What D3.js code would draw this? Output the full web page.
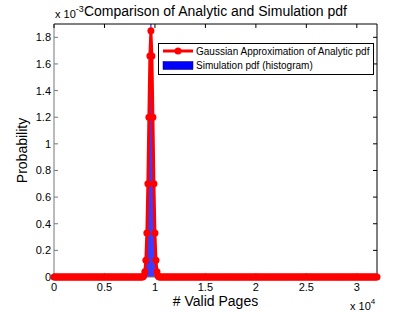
<!DOCTYPE html>
<html><head><meta charset="utf-8">
<script src="https://cdn.jsdelivr.net/npm/d3@7"></script>
<style>body{margin:0;background:#fff}svg{display:block}text{font-family:"Liberation Sans",Arial,sans-serif;fill:#000}</style>
</head><body><svg id="c" width="415" height="312"></svg>
<script>
// ---- data (y values in units of 1e-3) ----
const xTicks = [0, 5000, 10000, 15000, 20000, 25000, 30000];
const xTickLabels = ["0", "0.5", "1", "1.5", "2", "2.5", "3"];
const yTicks = [0, 0.2, 0.4, 0.6, 0.8, 1.0, 1.2, 1.4, 1.6, 1.8];
const yTickLabels = ["0", "0.2", "0.4", "0.6", "0.8", "1", "1.2", "1.4", "1.6", "1.8"];
// analytic pdf (Gaussian approx.), nonzero bins
const peakX = [8900, 9000, 9100, 9200, 9300, 9400, 9500, 9600, 9700, 9800, 9900, 10000, 10100, 10200, 10300];
const peakY = [0.01, 0.04, 0.125, 0.33, 0.70, 1.20, 1.66, 1.85, 1.66, 1.20, 0.70, 0.33, 0.125, 0.04, 0.01];
// all other bins of the analytic curve are 0, bins every 100 from 0 to 32000
const binStep = 100, xMax = 32000;
// simulation histogram
const histX = [9000, 9100, 9200, 9300, 9400, 9500, 9600, 9700, 9800, 9900, 10000, 10100, 10200];
const histY = [0.03, 0.12, 0.34, 0.72, 1.22, 1.64, 1.90, 1.68, 1.18, 0.68, 0.31, 0.11, 0.03];

const analytic = d3.range(0, xMax + 1, binStep).map(x => {
  const i = peakX.indexOf(x);
  return {x, y: i >= 0 ? peakY[i] : 0};
});

const svg = d3.select("#c");
const L = 54, R = 377, T = 24, B = 277;
const x = d3.scaleLinear().domain([0, xMax]).range([L, R]);
const y = d3.scaleLinear().domain([0, 1.9]).range([B, T]);

// histogram bars
svg.append("g").selectAll("rect").data(histX).join("rect")
  .attr("x", (d) => x(d - binStep / 2))
  .attr("width", (d) => x(d + binStep / 2) - x(d - binStep / 2))
  .attr("y", (d, i) => y(histY[i]))
  .attr("height", (d, i) => y(0) - y(histY[i]))
  .attr("fill", "#0000ff");

// axes box & ticks
const axG = svg.append("g").attr("font-size", 11);
axG.append("line").attr("x1", L).attr("x2", R).attr("y1", T).attr("y2", T).attr("stroke", "#000");
axG.append("line").attr("x1", R).attr("x2", R).attr("y1", T).attr("y2", B).attr("stroke", "#000");
axG.append("line").attr("x1", L).attr("x2", L).attr("y1", T).attr("y2", B).attr("stroke", "#777");
axG.append("line").attr("x1", L).attr("x2", R).attr("y1", B).attr("y2", B).attr("stroke", "#777");

xTicks.forEach((t, i) => {
  axG.append("line").attr("x1", x(t)).attr("x2", x(t)).attr("y1", B).attr("y2", B - 4).attr("stroke", "#777");
  axG.append("line").attr("x1", x(t)).attr("x2", x(t)).attr("y1", T).attr("y2", T + 4).attr("stroke", "#000");
  axG.append("text").attr("x", x(t)).attr("y", B + 14).attr("text-anchor", "middle").text(xTickLabels[i]);
});
yTicks.forEach((t, i) => {
  axG.append("line").attr("x1", L).attr("x2", L + 4).attr("y1", y(t)).attr("y2", y(t)).attr("stroke", "#777");
  axG.append("line").attr("x1", R).attr("x2", R - 4).attr("y1", y(t)).attr("y2", y(t)).attr("stroke", "#000");
  axG.append("text").attr("x", L - 3).attr("y", y(t) + 4).attr("text-anchor", "end").text(yTickLabels[i]);
});

// analytic line with markers
const line = d3.line().x(d => x(d.x)).y(d => y(d.y));
svg.append("path").datum(analytic).attr("d", line)
  .attr("fill", "none").attr("stroke", "#ff0000").attr("stroke-width", 3).attr("stroke-linejoin", "round");
svg.append("g").selectAll("circle").data(analytic).join("circle")
  .attr("cx", d => x(d.x)).attr("cy", d => y(d.y)).attr("r", 3.5).attr("fill", "#ff0000");

// exponent labels
const e1 = svg.append("text").attr("x", 55).attr("y", 18).attr("font-size", 11);
e1.append("tspan").text("x 10");
e1.append("tspan").attr("dy", -6).attr("font-size", 9).text("-3");
const e2 = svg.append("text").attr("x", 350).attr("y", 310).attr("font-size", 11);
e2.append("tspan").text("x 10");
e2.append("tspan").attr("dy", -6).attr("font-size", 8).text("4");

// title and axis labels
svg.append("text").attr("x", (L + R) / 2).attr("y", 16).attr("text-anchor", "middle").attr("font-size", 14)
  .text("Comparison of Analytic and Simulation pdf");
svg.append("text").attr("x", (L + R) / 2).attr("y", 306).attr("text-anchor", "middle").attr("font-size", 14)
  .text("# Valid Pages");
svg.append("text").attr("transform", `translate(27,${(T + B) / 2}) rotate(-90)`).attr("text-anchor", "middle").attr("font-size", 14)
  .text("Probability");

// legend
const lg = svg.append("g").attr("font-size", 10);
lg.append("rect").attr("x", 158.5).attr("y", 43.5).attr("width", 215).attr("height", 31)
  .attr("fill", "#fff").attr("stroke", "#000");
lg.append("line").attr("x1", 163).attr("x2", 193).attr("y1", 51).attr("y2", 51).attr("stroke", "#ff0000").attr("stroke-width", 3);
lg.append("circle").attr("cx", 178).attr("cy", 51).attr("r", 3.5).attr("fill", "#ff0000");
lg.append("text").attr("x", 196).attr("y", 54.5).text("Gaussian Approximation of Analytic pdf");
lg.append("rect").attr("x", 163).attr("y", 61.5).attr("width", 30).attr("height", 8).attr("fill", "#0000ff").attr("stroke", "#000066").attr("stroke-width", 0.5);
lg.append("text").attr("x", 196).attr("y", 69).text("Simulation pdf (histogram)");
</script></body></html>
